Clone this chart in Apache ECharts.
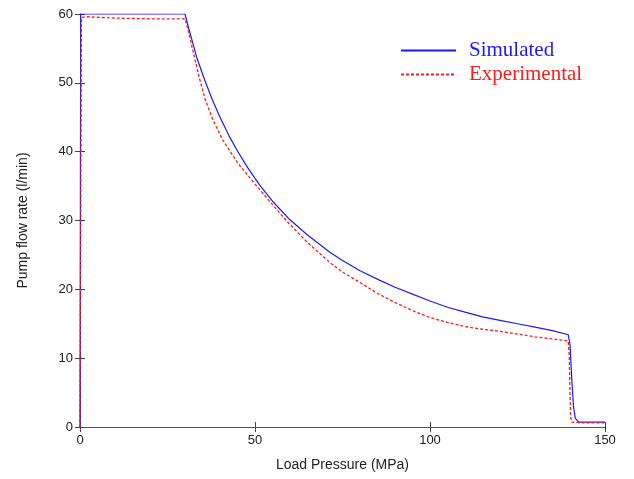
<!DOCTYPE html>
<html>
<head>
<meta charset="utf-8">
<script src="https://cdn.jsdelivr.net/npm/echarts@6/dist/echarts.min.js"></script>
<style>html,body{margin:0;padding:0;background:#fff;}#c{width:634px;height:479px;}</style>
</head>
<body>
<div id="c"></div>
<script>
const xTicks = [0, 50, 100, 150];
const yTicks = [0, 10, 20, 30, 40, 50, 60];
const simulated = [[0,0],[0.2,60],[30,60],[31,58],[32,56.2],[33.4,53.6],[35.5,50.6],[37.6,47.8],[40,45],[42.9,42.0],[45,40.1],[48,37.6],[51.4,35.1],[55,32.8],[60,30.1],[65,27.9],[71.4,25.4],[75,24.2],[80,22.7],[85.7,21.3],[90,20.3],[95,19.3],[100,18.3],[105,17.4],[110,16.7],[115,16.0],[120,15.5],[125,15.0],[130,14.5],[135,14.0],[139.5,13.4],[140,12],[140.5,7],[141,3],[141.5,1.3],[142.5,0.7],[150,0.7]];
const experimental = [[0,0],[0.4,59.5],[2,59.6],[10,59.4],[20,59.3],[30,59.3],[31,57.5],[32,55.2],[32.9,53.3],[34,50.9],[35.7,47.7],[38,44.6],[40.9,41.6],[45,38.4],[50,35.3],[55,32.3],[60,29.4],[65,26.8],[71.4,23.9],[75,22.5],[80,21],[85,19.4],[90,18.1],[95,16.9],[100,15.9],[105,15.2],[110,14.6],[115,14.2],[120,13.9],[125,13.5],[130,13.1],[135,12.8],[139.5,12.5],[139.8,10],[140,5],[140.2,1.5],[140.5,0.7],[145,0.6],[150,0.6]];
const seriesNames = ['Simulated', 'Experimental'];

const axisLine = {show: true, lineStyle: {color: '#555', width: 1}};
const tick = {show: true, inside: true, length: 5, lineStyle: {color: '#444'}};
const lbl = {color: '#222', fontFamily: 'Liberation Sans', fontSize: 13};

const chart = echarts.init(document.getElementById('c'), null, {renderer: 'canvas'});
chart.setOption({
  animation: false,
  backgroundColor: '#fff',
  grid: {left: 80, right: 29, top: 14, bottom: 52, containLabel: false},
  legend: {
    left: 395, top: 35, orient: 'vertical', itemWidth: 55, itemHeight: 14, itemGap: 3,
    itemStyle: {opacity: 0},
    data: [
      {name: seriesNames[0], textStyle: {color: '#1a1aff'}},
      {name: seriesNames[1], textStyle: {color: '#ff1a1a'}}
    ],
    textStyle: {fontFamily: 'Liberation Serif', fontSize: 21, padding: [0,0,0,8]}
  },
  xAxis: [
    {type: 'value', min: 0, max: 150, interval: 50, position: 'bottom',
     name: 'Load Pressure (MPa)', nameLocation: 'middle', nameGap: 31,
     nameTextStyle: {color: '#222', fontFamily: 'Liberation Sans', fontSize: 14},
     axisLine: axisLine, axisTick: tick, axisLabel: Object.assign({margin: 7}, lbl), splitLine: {show: false}},
    {type: 'value', min: 0, max: 150, interval: 50, position: 'top',
     axisLine: axisLine, axisTick: tick, axisLabel: {show: false}, splitLine: {show: false}}
  ],
  yAxis: [
    {type: 'value', min: 0, max: 60, interval: 10, position: 'left',
     name: 'Pump flow rate (l/min)', nameLocation: 'middle', nameGap: 50,
     nameTextStyle: {color: '#222', fontFamily: 'Liberation Sans', fontSize: 14},
     axisLine: axisLine, axisTick: tick, axisLabel: Object.assign({margin: 7}, lbl), splitLine: {show: false}},
    {type: 'value', min: 0, max: 60, interval: 10, position: 'right',
     axisLine: axisLine, axisTick: tick, axisLabel: {show: false}, splitLine: {show: false}}
  ],
  series: [
    {name: seriesNames[0], type: 'line', data: simulated, showSymbol: false, symbol: 'none',
     lineStyle: {color: '#1a1aff', width: 1.2}, itemStyle: {color: '#1a1aff'}, z: 3},
    {name: seriesNames[1], type: 'line', data: experimental, showSymbol: false, symbol: 'none',
     lineStyle: {color: '#ff1a1a', width: 1.3, type: [3, 2]}, itemStyle: {color: '#ff1a1a'}, z: 4}
  ]
});
</script>
</body>
</html>
